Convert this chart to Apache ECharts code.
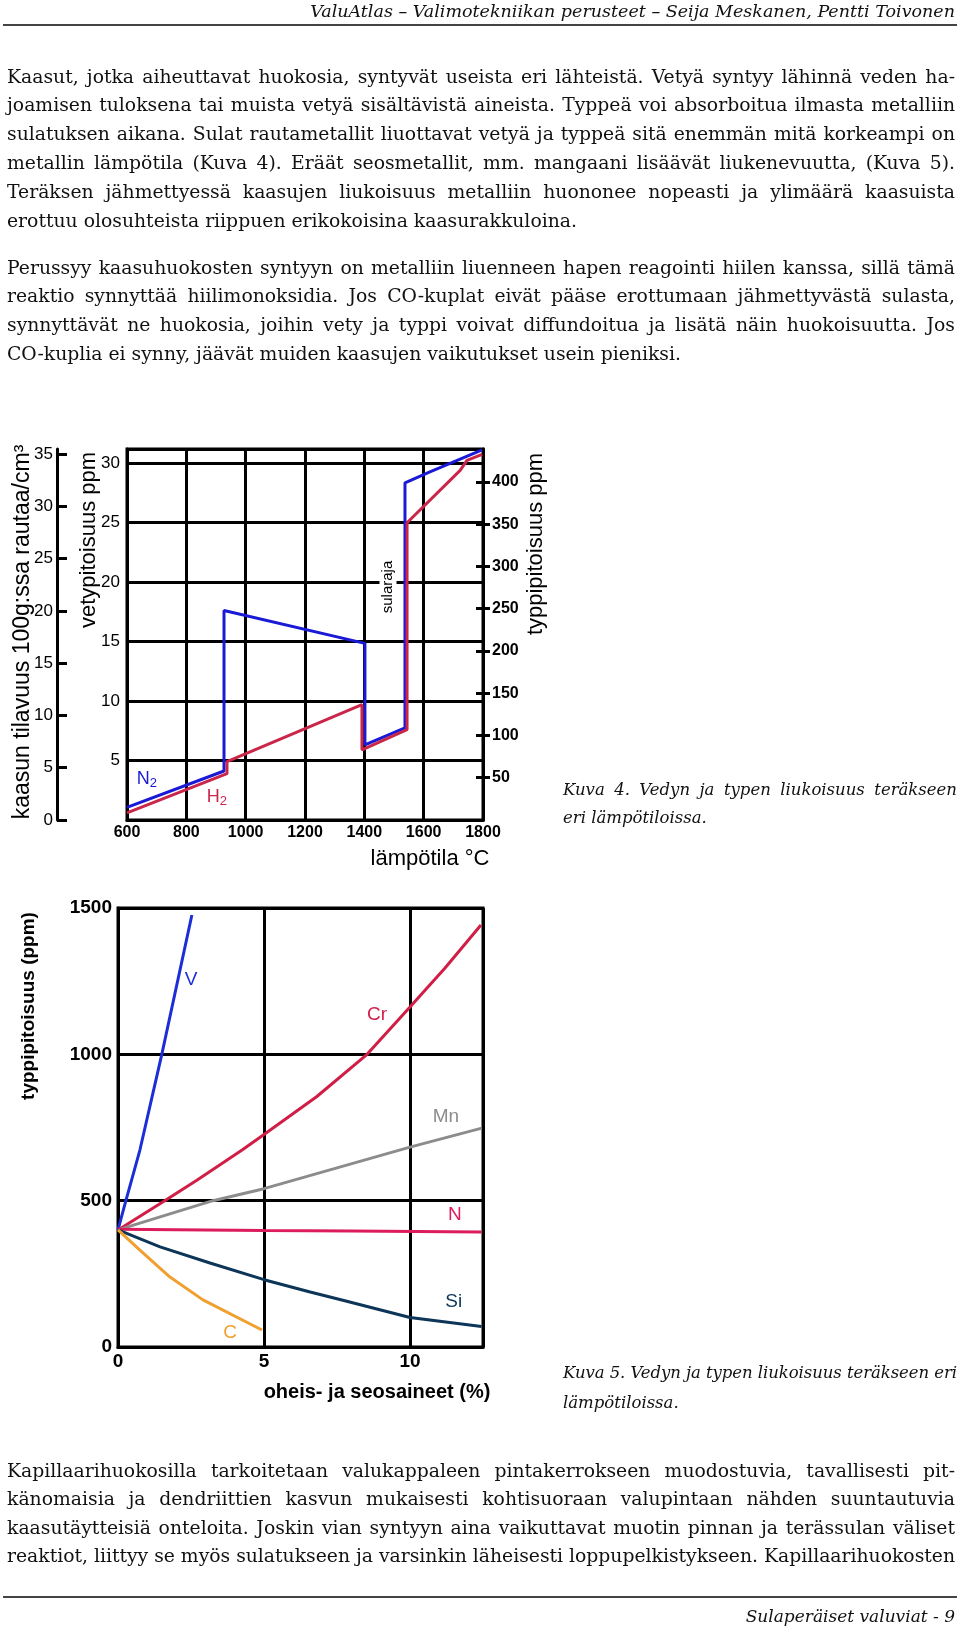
<!DOCTYPE html>
<html><head><meta charset="utf-8">
<script src="https://cdn.jsdelivr.net/npm/echarts@6/dist/echarts.min.js"></script>
<style>
html,body{margin:0;padding:0;background:#fff;}
#page{position:relative;width:960px;height:1629px;overflow:hidden;background:#fff;}
#chart{position:absolute;left:0;top:0;width:960px;height:1629px;}
.t{position:absolute;font-family:'DejaVu Serif',serif;color:#111;white-space:nowrap;}
.rule{position:absolute;left:3px;width:954px;height:2px;background:#444;}
</style></head><body><div id="page"><div id="chart"></div></div>
<script>
// ---------- text content ----------
const headerText = 'ValuAtlas – Valimotekniikan perusteet – Seija Meskanen, Pentti Toivonen';
const footerText = 'Sulaperäiset valuviat - 9';
const par1 = [
  'Kaasut, jotka aiheuttavat huokosia, syntyvät useista eri lähteistä. Vetyä syntyy lähinnä veden ha-',
  'joamisen tuloksena tai muista vetyä sisältävistä aineista. Typpeä voi absorboitua ilmasta metalliin',
  'sulatuksen aikana. Sulat rautametallit liuottavat vetyä ja typpeä sitä enemmän mitä korkeampi on',
  'metallin lämpötila (Kuva 4). Eräät seosmetallit, mm. mangaani lisäävät liukenevuutta, (Kuva 5).',
  'Teräksen jähmettyessä kaasujen liukoisuus metalliin huononee nopeasti ja ylimäärä kaasuista',
  'erottuu olosuhteista riippuen erikokoisina kaasurakkuloina.'
];
const par2 = [
  'Perussyy kaasuhuokosten syntyyn on metalliin liuenneen hapen reagointi hiilen kanssa, sillä tämä',
  'reaktio synnyttää hiilimonoksidia. Jos CO-kuplat eivät pääse erottumaan jähmettyvästä sulasta,',
  'synnyttävät ne huokosia, joihin vety ja typpi voivat diffundoitua ja lisätä näin huokoisuutta. Jos',
  'CO-kuplia ei synny, jäävät muiden kaasujen vaikutukset usein pieniksi.'
];
const par3 = [
  'Kapillaarihuokosilla tarkoitetaan valukappaleen pintakerrokseen muodostuvia, tavallisesti pit-',
  'känomaisia ja dendriittien kasvun mukaisesti kohtisuoraan valupintaan nähden suuntautuvia',
  'kaasutäytteisiä onteloita. Joskin vian syntyyn aina vaikuttavat muotin pinnan ja terässulan väliset',
  'reaktiot, liittyy se myös sulatukseen ja varsinkin läheisesti loppupelkistykseen. Kapillaarihuokosten'
];
const caption4 = ['Kuva 4. Vedyn ja typen liukoisuus teräkseen', 'eri lämpötiloissa.'];
const caption5 = ['Kuva 5. Vedyn ja typen liukoisuus teräkseen eri', 'lämpötiloissa.'];

// ---------- Kuva 4 data (temperature °C) ----------
const h2Temp = [600, 937, 937, 1392, 1392, 1544, 1544, 1723, 1746, 1797];
const h2Ppm  = [0.6, 3.9, 4.9, 9.7, 5.9, 7.6, 25.0, 29.4, 30.25, 30.75];      // vetypitoisuus ppm
const n2Temp = [600, 927, 927, 1402, 1402, 1537, 1537, 1621, 1797];
const n2Ppm  = [15, 58, 248, 209, 89, 109, 399, 412, 438];                    // typpipitoisuus ppm
const tempTicks = [600, 800, 1000, 1200, 1400, 1600, 1800];
const kaasuTicks = [0, 5, 10, 15, 20, 25, 30, 35];
const typpiTicks = [50, 100, 150, 200, 250, 300, 350, 400];

// ---------- Kuva 5 data (% alloying element -> N ppm) ----------
const vX  = [0, 0.27, 0.75, 1.5, 2.53];
const vY  = [400, 500, 673, 1000, 1476];
const crX = [0, 1.6, 2.7, 4.25, 5, 6.8, 8.53, 10, 11.2, 12.43];
const crY = [400, 500, 570, 673, 726, 855, 1000, 1162, 1295, 1442];
const mnX = [0, 3.25, 5, 10, 12.46];
const mnY = [400, 500, 541, 683, 748];
const nX  = [0, 2, 5, 8, 12.45];
const nY  = [402, 401, 398, 396, 393];
const siX = [0, 1.44, 3.15, 5, 6.58, 7.7, 10, 12.45];
const siY = [400, 342, 287, 230, 188, 160, 101, 70];
const cX  = [0, 0.75, 1.78, 2.91, 4.93];
const cY  = [400, 331, 239, 161, 58];

// ---------- page text ----------
const page = document.getElementById('page');
function addLine(txt, left, top, width, size, opts) {
  const d = document.createElement('div');
  d.className = 't';
  d.style.left = left + 'px';
  d.style.top = top + 'px';
  d.style.width = width + 'px';
  d.style.fontSize = size + 'px';
  d.style.lineHeight = (opts.lh || 29) + 'px';
  d.style.height = (opts.lh || 29) + 'px';
  d.style.textAlign = opts.align || 'left';
  if (opts.italic) d.style.fontStyle = 'italic';
  const span = document.createElement('span');
  span.textContent = txt;
  d.appendChild(span);
  page.appendChild(d);
  if (opts.justify) {
    const natural = span.getBoundingClientRect().width;
    const spaces = (txt.match(/ /g) || []).length;
    if (natural > width) {
      d.style.letterSpacing = ((width - natural) / txt.length) + 'px';
    } else if (spaces) {
      d.style.wordSpacing = ((width - natural) / spaces) + 'px';
    }
  }
}
function addPar(lines, top, step, justifyLast) {
  lines.forEach((l, i) => addLine(l, 7, top + i * step, 948, 18.8,
    {justify: (i < lines.length - 1) || justifyLast}));
}
addLine(headerText, 0, 0, 955, 17.5, {italic: true, align: 'right', lh: 23});
const r1 = document.createElement('div'); r1.className = 'rule'; r1.style.top = '24px'; page.appendChild(r1);
addPar(par1, 61.5, 28.8, false);
addPar(par2, 252.5, 28.8, false);
addPar(par3, 1455.5, 28.5, true);
addLine(caption4[0], 563, 776, 394, 16.5, {italic: true, justify: true, lh: 28});
addLine(caption4[1], 563, 804, 394, 16.5, {italic: true, lh: 28});
addLine(caption5[0], 563, 1358, 394, 16.5, {italic: true, justify: true, lh: 29});
addLine(caption5[1], 563, 1388, 394, 16.5, {italic: true, lh: 29});
const r2 = document.createElement('div'); r2.className = 'rule'; r2.style.top = '1596px'; page.appendChild(r2);
addLine(footerText, 0, 1605, 955, 17, {italic: true, align: 'right', lh: 23});

// ---------- chart ----------
const zip = (a, b) => a.map((v, i) => [v, b[i]]);
const plain = v => String(v);
const BLUE = '#1a1ad6', RED = '#c9264a';
const FONT = 'Liberation Sans, Arial, sans-serif';
const black = w => ({color: '#000', width: w});
const mp = (coord, text, color, size, rich) => ({
  symbol: 'circle', symbolSize: 0, silent: true,
  data: [{coord: coord}],
  label: {show: true, position: 'inside', formatter: text, color: color, fontSize: size,
          fontFamily: FONT, lineHeight: 22, rich: rich || {}}
});
const subRich = c => ({s: {fontSize: 13, color: c, fontFamily: FONT, lineHeight: 13, verticalAlign: 'bottom', padding: [10, 0, 0, 0]}});

const chart = echarts.init(document.getElementById('chart'), null, {renderer: 'canvas'});
const option = {
  animation: false,
  backgroundColor: 'transparent',
  textStyle: {fontFamily: FONT, color: '#000'},
  grid: [
    {left: 127, top: 449, width: 356, height: 371, show: true, borderColor: '#000', borderWidth: 3,
     backgroundColor: 'transparent', containLabel: false, outerBoundsMode: 'none'},
    {left: 118, top: 908, width: 365, height: 439, show: true, borderColor: '#000', borderWidth: 3,
     backgroundColor: 'transparent', containLabel: false, outerBoundsMode: 'none'}
  ],
  xAxis: [
    {gridIndex: 0, type: 'value', min: 600, max: 1800, interval: 200,
     axisLine: {show: true, lineStyle: black(3)}, axisTick: {show: false},
     axisLabel: {color: '#000', fontSize: 16, fontWeight: 'bold', margin: 5, fontFamily: FONT,
                 customValues: tempTicks, formatter: plain},
     splitLine: {show: true, lineStyle: black(3)}},
    {gridIndex: 1, type: 'value', min: 0, max: 12.5, interval: 5,
     axisLine: {show: true, lineStyle: black(3)}, axisTick: {show: false},
     axisLabel: {color: '#000', fontSize: 19, fontWeight: 'bold', margin: 5, fontFamily: FONT,
                 showMaxLabel: false, formatter: plain},
     splitLine: {show: true, lineStyle: black(3)}}
  ],
  yAxis: [
    // 0: vetypitoisuus ppm
    {gridIndex: 0, type: 'value', position: 'left', min: 0, max: 31.2, interval: 5,
     axisLine: {show: true, lineStyle: black(3)}, axisTick: {show: false},
     axisLabel: {color: '#000', fontSize: 17, margin: 7, fontFamily: FONT, showMinLabel: false, showMaxLabel: false,
                 verticalAlign: 'middle', padding: [14, 0, 0, 0], formatter: plain},
     splitLine: {show: true, lineStyle: black(3)}},
    // 1: kaasun tilavuus
    {gridIndex: 0, type: 'value', position: 'left', offset: 70, min: 0, max: 35.5, interval: 5,
     axisLine: {show: true, onZero: false, lineStyle: black(3)},
     axisTick: {show: true, inside: true, length: 10, lineStyle: black(3), customValues: kaasuTicks},
     axisLabel: {color: '#000', fontSize: 17, margin: 4, fontFamily: FONT, customValues: kaasuTicks, formatter: plain},
     splitLine: {show: false}},
    // 2: typpipitoisuus ppm
    {gridIndex: 0, type: 'value', position: 'right', min: 0, max: 439, interval: 50,
     axisLine: {show: true, lineStyle: black(3)},
     axisTick: {show: true, length: 7, lineStyle: black(3), customValues: typpiTicks},
     axisLabel: {color: '#000', fontSize: 16, fontWeight: 'bold', margin: 9, fontFamily: FONT,
                 customValues: typpiTicks, formatter: plain},
     splitLine: {show: false}},
    // 3: inner half of the typpi ticks
    {gridIndex: 0, type: 'value', position: 'right', min: 0, max: 439, interval: 50,
     axisLine: {show: false},
     axisTick: {show: true, inside: true, length: 7, lineStyle: black(3), customValues: typpiTicks},
     axisLabel: {show: false}, splitLine: {show: false}},
    // 4: Kuva 5 typpipitoisuus
    {gridIndex: 1, type: 'value', min: 0, max: 1500, interval: 500,
     axisLine: {show: true, lineStyle: black(3)}, axisTick: {show: false},
     axisLabel: {color: '#000', fontSize: 19, fontWeight: 'bold', margin: 6, fontFamily: FONT, formatter: plain},
     splitLine: {show: true, lineStyle: black(3)}}
  ],
  series: [
    {name: 'N2', type: 'line', xAxisIndex: 0, yAxisIndex: 2, data: zip(n2Temp, n2Ppm),
     symbol: 'none', lineStyle: {color: BLUE, width: 3}, itemStyle: {color: BLUE}, z: 3,
     markPoint: mp([667, 48.5], 'N{s|2}', BLUE, 18, subRich(BLUE))},
    {name: 'H2', type: 'line', xAxisIndex: 0, yAxisIndex: 0, data: zip(h2Temp, h2Ppm),
     symbol: 'none', lineStyle: {color: RED, width: 3}, itemStyle: {color: RED}, z: 4,
     markPoint: mp([903, 1.9], 'H{s|2}', RED, 18, subRich(RED))},
    {name: 'V', type: 'line', xAxisIndex: 1, yAxisIndex: 4, data: zip(vX, vY),
     symbol: 'none', lineStyle: {color: '#1c2ed8', width: 3}, itemStyle: {color: '#1c2ed8'},
     markPoint: mp([2.5, 1254], 'V', '#1c2ed8', 19)},
    {name: 'Cr', type: 'line', xAxisIndex: 1, yAxisIndex: 4, data: zip(crX, crY),
     symbol: 'none', lineStyle: {color: '#d01e46', width: 3}, itemStyle: {color: '#d01e46'},
     markPoint: mp([8.87, 1134], 'Cr', '#d01e46', 19)},
    {name: 'Mn', type: 'line', xAxisIndex: 1, yAxisIndex: 4, data: zip(mnX, mnY),
     symbol: 'none', lineStyle: {color: '#8c8c8c', width: 3}, itemStyle: {color: '#8c8c8c'},
     markPoint: mp([11.23, 786], 'Mn', '#8c8c8c', 19)},
    {name: 'N', type: 'line', xAxisIndex: 1, yAxisIndex: 4, data: zip(nX, nY),
     symbol: 'none', lineStyle: {color: '#dc1c5c', width: 3}, itemStyle: {color: '#dc1c5c'},
     markPoint: mp([11.54, 451], 'N', '#dc1c5c', 19)},
    {name: 'Si', type: 'line', xAxisIndex: 1, yAxisIndex: 4, data: zip(siX, siY),
     symbol: 'none', lineStyle: {color: '#0c3558', width: 3}, itemStyle: {color: '#0c3558'},
     markPoint: mp([11.5, 154], 'Si', '#0c3558', 19)},
    {name: 'C', type: 'line', xAxisIndex: 1, yAxisIndex: 4, data: zip(cX, cY),
     symbol: 'none', lineStyle: {color: '#f0a030', width: 3}, itemStyle: {color: '#f0a030'},
     markPoint: mp([3.84, 48], 'C', '#f0a030', 19)}
  ],
  graphic: [
    {type: 'text', x: 23, y: 632, rotation: Math.PI / 2, z: 100,
     style: {text: 'kaasun tilavuus 100g:ssa rautaa/cm³', fill: '#000', font: '23px ' + FONT,
             align: 'center', verticalAlign: 'middle', textAlign: 'center', textVerticalAlign: 'middle'}},
    {type: 'text', x: 89, y: 540, rotation: Math.PI / 2, z: 100,
     style: {text: 'vetypitoisuus ppm', fill: '#000', font: '22px ' + FONT,
             align: 'center', verticalAlign: 'middle', textAlign: 'center', textVerticalAlign: 'middle'}},
    {type: 'text', x: 536, y: 544, rotation: Math.PI / 2, z: 100,
     style: {text: 'typpipitoisuus ppm', fill: '#000', font: '22px ' + FONT,
             align: 'center', verticalAlign: 'middle', textAlign: 'center', textVerticalAlign: 'middle'}},
    {type: 'text', x: 430, y: 859, z: 100,
     style: {text: 'lämpötila °C', fill: '#000', font: '22px ' + FONT,
             align: 'center', verticalAlign: 'middle', textAlign: 'center', textVerticalAlign: 'middle'}},
    {type: 'text', x: 388, y: 587, rotation: Math.PI / 2, z: 100,
     style: {text: 'sularaja', fill: '#000', font: '15px ' + FONT, backgroundColor: '#fff', padding: [1, 2],
             align: 'center', verticalAlign: 'middle', textAlign: 'center', textVerticalAlign: 'middle'}},
    {type: 'text', x: 29, y: 1006, rotation: Math.PI / 2, z: 100,
     style: {text: 'typpipitoisuus (ppm)', fill: '#000', font: 'bold 19px ' + FONT,
             align: 'center', verticalAlign: 'middle', textAlign: 'center', textVerticalAlign: 'middle'}},
    {type: 'text', x: 377, y: 1392, z: 100,
     style: {text: 'oheis- ja seosaineet (%)', fill: '#000', font: 'bold 20px ' + FONT,
             align: 'center', verticalAlign: 'middle', textAlign: 'center', textVerticalAlign: 'middle'}}
  ]
};
chart.setOption(option);
</script></body></html>
